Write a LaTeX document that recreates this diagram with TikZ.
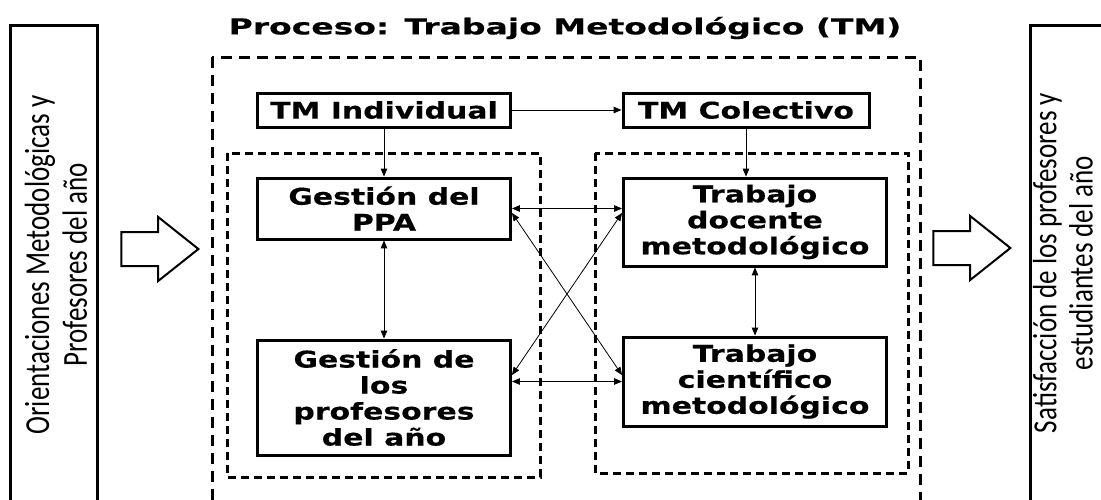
\documentclass[tikz,border=0pt]{standalone}
\usepackage{fontspec}
\usetikzlibrary{arrows}
\usetikzlibrary{shapes.arrows}
\newfontfamily\boxfont{DejaVu Sans Bold}[FakeStretch=1.3, FakeBold=0.4]
\newfontfamily\titlefont{DejaVu Sans Bold}[FakeStretch=1.5, FakeBold=0.4]
\newfontfamily\sidefont{Carlito}
\tikzset{
box/.style={rectangle, draw, line width=3pt, align=center, inner sep=0pt, font=\boxfont\fontsize{23}{26}\selectfont},
side/.style={align=center, inner sep=0pt, font=\sidefont\fontsize{27}{29}\selectfont},
fat/.style={single arrow, draw, line width=2pt, minimum height=77pt, single arrow head extend=15pt, single arrow tip angle=77, inner xsep=0pt, inner ysep=16pt, anchor=tip},
frame/.style={line width=3pt, dash pattern=on 11pt off 7pt},
subframe/.style={line width=3pt, dash pattern=on 8pt off 5pt},
link/.style={-triangle 45, line width=0.8pt},
dlink/.style={triangle 45-triangle 45, line width=0.8pt}
}

\begin{document}
\begin{tikzpicture}[x=1pt,y=-1pt]
\clip (0,0) rectangle (1101,499);

\node [font=\titlefont\fontsize{22}{26}\selectfont] (TIT) at (565,28) {Proceso: Trabajo Metodológico (TM)};

% entrada / salida
\draw [line width=3pt] (10,25) rectangle (97,510);
\node [side, rotate=90, yscale=1.3] (ORI) at (56,265) {Orientaciones Metodológicas y\\Profesores del año};
\node [fat] (IN) at (200,249) {};
\draw [line width=3pt] (1030,25) rectangle (1117,510);
\node [side, rotate=90, yscale=1.25] (SAT) at (1063,263) {Satisfacción de los profesores y\\estudiantes del año};
\node [fat] (OUT) at (1012,248) {};

% marcos
\draw [frame] (212,57) rectangle (920,520);
\draw [subframe] (227,153) rectangle (540,477);
\draw [subframe] (595,153) rectangle (908,473);

\node [box, minimum width=253pt, minimum height=34pt] (TMI) at (384,110) {TM Individual};
\node [box, minimum width=246pt, minimum height=34pt] (TMC) at (746,110) {TM Colectivo};
\node [box, minimum width=253pt, minimum height=61pt] (PPA) at (384,208.5) {Gestión del\\PPA};
\node [box, minimum width=253pt, minimum height=115pt] (GPA) at (384,397.5) {Gestión de\\los\\profesores\\del año};
\node [box, minimum width=263pt, minimum height=88pt] (TDM) at (755,222) {Trabajo\\docente\\metodológico};
\node [box, minimum width=263pt, minimum height=89pt] (TCM) at (755,381.5) {Trabajo\\científico\\metodológico};

\draw[link] (TMI.east) -- (TMC.west);
\draw[link] (TMI.south) -- (PPA.north);
\draw[link] (TMC.south) -- (TMC.south |- TDM.north);
\draw[dlink] (PPA.south) -- (GPA.north);
\draw[dlink] (TDM.south) -- (TCM.north);
\draw[dlink] (PPA.east) -- (PPA.east -| TDM.west);
\draw[dlink] (GPA.east |- TCM.west) -- (TCM.west);
\draw[dlink] ([yshift=-4.5pt]PPA.east) -- ([yshift=6.5pt]TCM.west);
\draw[dlink] ([yshift=22.5pt]GPA.east) -- ([yshift=9pt]TDM.west);
\end{tikzpicture}
\end{document}
